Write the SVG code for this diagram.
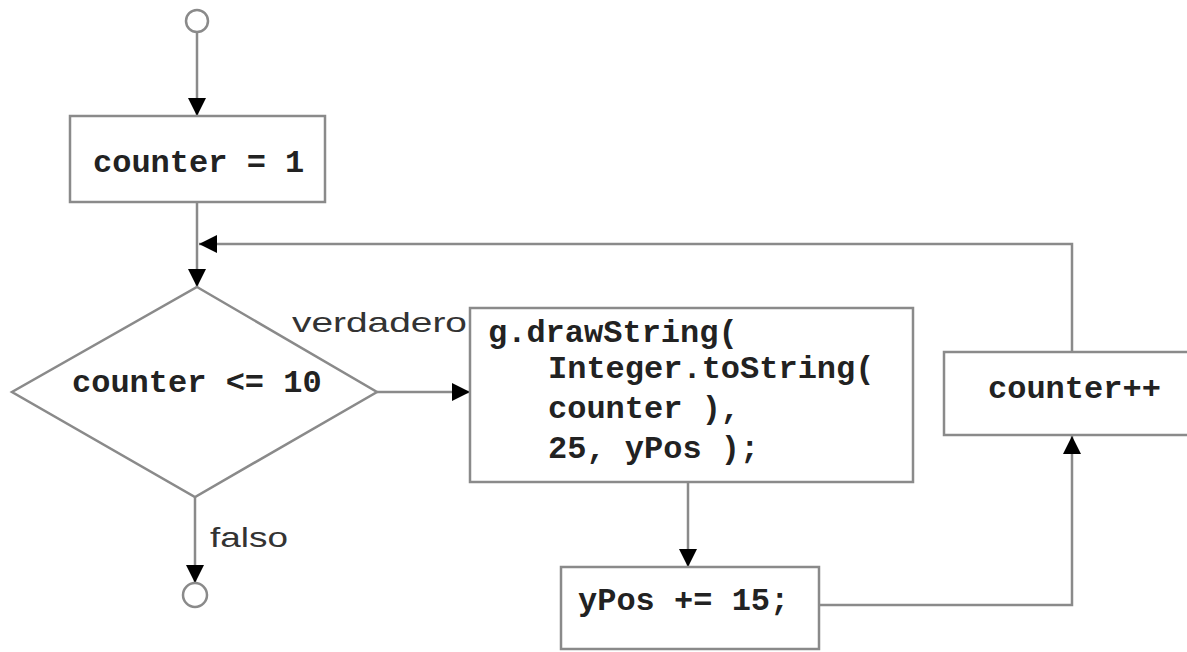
<svg xmlns="http://www.w3.org/2000/svg" width="1187" height="652" viewBox="0 0 1187 652">
<defs>
<style>
.box{fill:#fff;stroke:#8a8a8a;stroke-width:2.5}
.ln{fill:none;stroke:#8a8a8a;stroke-width:2.5}
.code{font-family:"Liberation Mono",monospace;font-weight:bold;font-size:32px;fill:#222}
.lbl{font-family:"Liberation Sans",sans-serif;font-size:28px;fill:#333}
</style>
<marker id="arr" markerUnits="userSpaceOnUse" markerWidth="18" markerHeight="18" refX="16" refY="8" orient="auto" viewBox="0 0 16 16">
<path d="M0,0 L16,8 L0,16 z" fill="#000"/>
</marker>
</defs>
<rect width="1187" height="652" fill="#fff"/>
<g id="connectors">
<line class="ln" x1="197" y1="32" x2="197" y2="116" marker-end="url(#arr)"/>
<line class="ln" x1="197" y1="202" x2="197" y2="287" marker-end="url(#arr)"/>
<polyline class="ln" points="1072,352 1072,244 199,244" marker-end="url(#arr)"/>
<line class="ln" x1="377" y1="392" x2="470" y2="392" marker-end="url(#arr)"/>
<line class="ln" x1="195" y1="497" x2="195" y2="583" marker-end="url(#arr)"/>
<line class="ln" x1="688" y1="482" x2="688" y2="567" marker-end="url(#arr)"/>
<polyline class="ln" points="819,605 1072,605 1072,436" marker-end="url(#arr)"/>
<text class="lbl" x="292" y="332" textLength="175" lengthAdjust="spacingAndGlyphs">verdadero</text>
<text class="lbl" x="210" y="547" textLength="78" lengthAdjust="spacingAndGlyphs">falso</text>
</g>
<g id="start"><circle class="box" cx="197" cy="21" r="11"/></g>
<g id="init"><rect class="box" x="70" y="116" width="255" height="86"/><text class="code" x="93" y="172">counter = 1</text></g>
<g id="decision"><polygon class="box" points="197,287 377,392 195,497 12,392"/><text class="code" x="72" y="392">counter &lt;= 10</text></g>
<g id="draw"><rect class="box" x="470" y="308" width="443" height="174"/>
<text class="code" x="488" y="342">g.drawString(</text>
<text class="code" x="548" y="378">Integer.toString(</text>
<text class="code" x="548" y="418">counter ),</text>
<text class="code" x="548" y="458">25, yPos );</text></g>
<g id="ypos"><rect class="box" x="561" y="567" width="258" height="82"/><text class="code" x="578" y="610">yPos += 15;</text></g>
<g id="incr"><rect class="box" x="944" y="352" width="250" height="83"/><text class="code" x="988" y="398">counter++</text></g>
<g id="end"><circle class="box" cx="195" cy="595" r="12"/></g>
</svg>
